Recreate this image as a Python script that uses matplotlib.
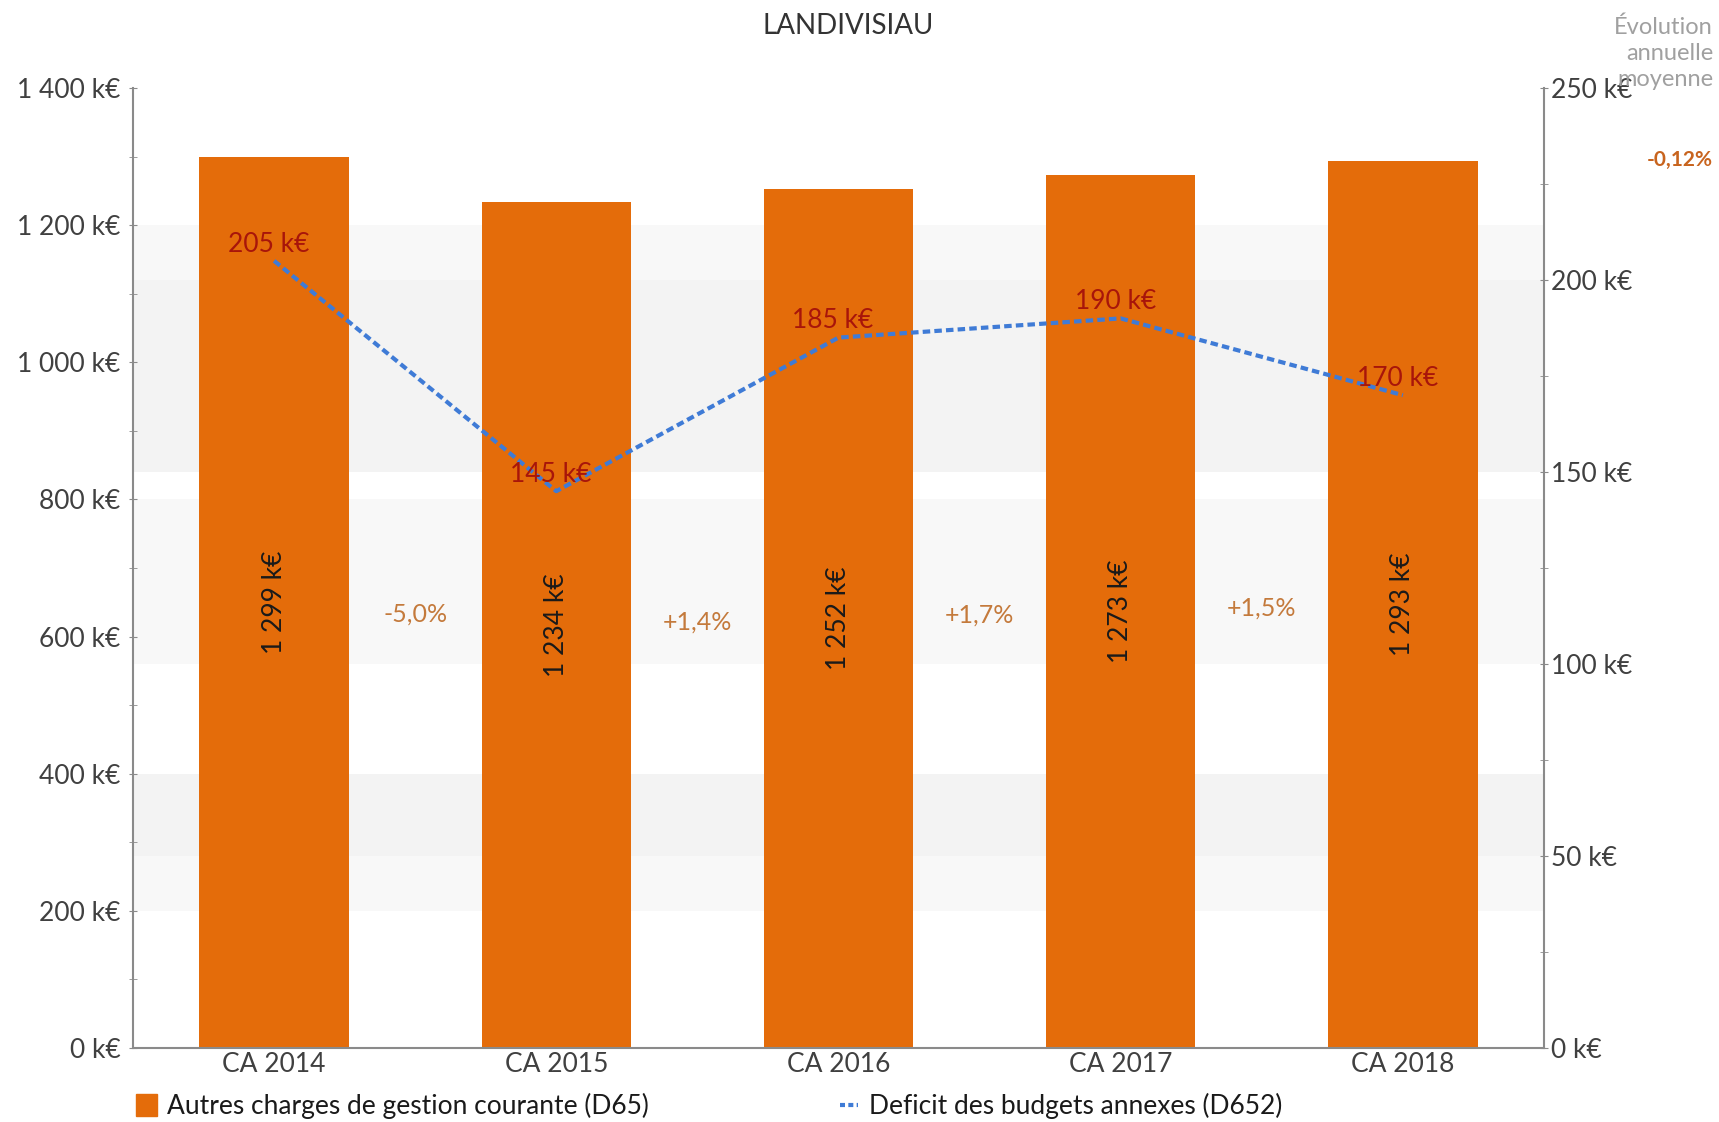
import matplotlib
matplotlib.use("Agg")
import matplotlib.pyplot as plt
from matplotlib.patches import Patch
from matplotlib.lines import Line2D
from matplotlib.ticker import MultipleLocator, FuncFormatter

plt.rcParams['font.family'] = ['Lato', 'DejaVu Sans']

# ---- data ----
categories = ["CA 2014", "CA 2015", "CA 2016", "CA 2017", "CA 2018"]
charges = [1299, 1234, 1252, 1273, 1293]          # k€, left axis
deficit = [205, 145, 185, 190, 170]               # k€, right axis
evolutions = ["-5,0%", "+1,4%", "+1,7%", "+1,5%"]
evol_moyenne = "-0,12%"
title = "LANDIVISIAU"
legend_bar = "Autres charges de gestion courante (D65)"
legend_line = "Deficit des budgets annexes (D652)"
# light background bands (left-axis units)
bands = [(1120, 1200, '#f8f8f8'), (840, 1120, '#f3f3f3'), (560, 800, '#f8f8f8'),
         (280, 400, '#f3f3f3'), (200, 280, '#f8f8f8')]

BAR = '#E46C0A'
LINE = '#3F7BD6'
RED = '#A8150A'
PCT = '#C47A3C'
GRAY_TXT = '#404040'
SPINE = '#8a8a8a'

W, H = 1719, 1122
fig = plt.figure(figsize=(W / 100, H / 100), dpi=100)
L, R, T, B = 133, 1544, 88, 1048
ax = fig.add_axes([L / W, 1 - B / H, (R - L) / W, (B - T) / H])
ax2 = ax.twinx()

def kfmt(v, pos=None):
    s = f"{int(round(v)):,}".replace(",", " ")
    return f"{s} k€"

x = list(range(len(categories)))
for lo, hi, c in bands:
    ax.axhspan(lo, hi, color=c, zorder=0, lw=0)

ax.bar(x, charges, width=0.53, color=BAR, zorder=2)
ax.set_xlim(-0.5, len(categories) - 0.5)
ax.set_ylim(0, 1400)
ax.yaxis.set_major_locator(MultipleLocator(200))
ax.yaxis.set_minor_locator(MultipleLocator(100))
ax.yaxis.set_major_formatter(FuncFormatter(kfmt))
ax.set_xticks(x)
ax.set_xticklabels(categories)

for i, v in enumerate(charges):
    ax.text(i, v / 2, kfmt(v), rotation=90, ha='center', va='center',
            fontsize=19, color='#1a1a1a', zorder=3)
for i, e in enumerate(evolutions):
    ymid = (charges[i] / 2 + charges[i + 1] / 2) / 2
    ax.text(i + 0.5, ymid, e, ha='center', va='center', fontsize=18, color=PCT)

ax2.plot(x, deficit, color=LINE, lw=3, linestyle=(0, (1.8, 1.0)), zorder=4)
ax2.set_ylim(0, 250)
ax2.yaxis.set_major_locator(MultipleLocator(50))
ax2.yaxis.set_minor_locator(MultipleLocator(25))
ax2.yaxis.set_major_formatter(FuncFormatter(kfmt))
for i, v in enumerate(deficit):
    ax2.annotate(kfmt(v), (i, v), xytext=(-4, 12), textcoords='offset points',
                 ha='center', va='center', fontsize=19, color=RED, zorder=5)

for a in (ax, ax2):
    a.spines['top'].set_visible(False)
    for s in ('left', 'right', 'bottom'):
        a.spines[s].set_color(SPINE)
        a.spines[s].set_linewidth(1.5)
ax.spines['right'].set_visible(False)
ax2.spines['left'].set_visible(False)
ax2.spines['bottom'].set_visible(False)

ax.tick_params(axis='y', which='both', direction='inout', length=6, color=SPINE,
               labelsize=19, labelcolor=GRAY_TXT, pad=6)
ax.tick_params(axis='x', length=0, labelsize=19, labelcolor=GRAY_TXT, pad=3)
ax2.tick_params(axis='y', which='both', direction='inout', length=6, color=SPINE,
                labelsize=19, labelcolor=GRAY_TXT, pad=2)

fig.text(848 / W, 1 - 26 / H, title, ha='center', va='center', fontsize=20, color='#333333')
fig.text(1713 / W, 1 - 53 / H, "Évolution\nannuelle\nmoyenne", ha='right', va='center',
         fontsize=17, color='#a0a0a0', linespacing=1.3)
fig.text(1713 / W, 1 - 160 / H, evol_moyenne, ha='right', va='center', fontsize=15,
         fontweight='bold', color='#C8641E')

leg1 = fig.legend(handles=[Patch(color=BAR)], labels=[legend_bar], loc='center left',
                  bbox_to_anchor=(112 / W, 1 - 1106 / H), frameon=False, fontsize=19,
                  handlelength=0.8, handleheight=0.9, handletextpad=0.4, labelcolor='#1a1a1a')
leg2 = fig.legend(handles=[Line2D([], [], color=LINE, lw=3, linestyle=(0, (1.2, 0.8)))],
                  labels=[legend_line], loc='center left',
                  bbox_to_anchor=(816 / W, 1 - 1106 / H), frameon=False, fontsize=19,
                  handlelength=0.7, handletextpad=0.4, labelcolor='#1a1a1a')

fig.savefig("out.png", dpi=100, facecolor='white')
